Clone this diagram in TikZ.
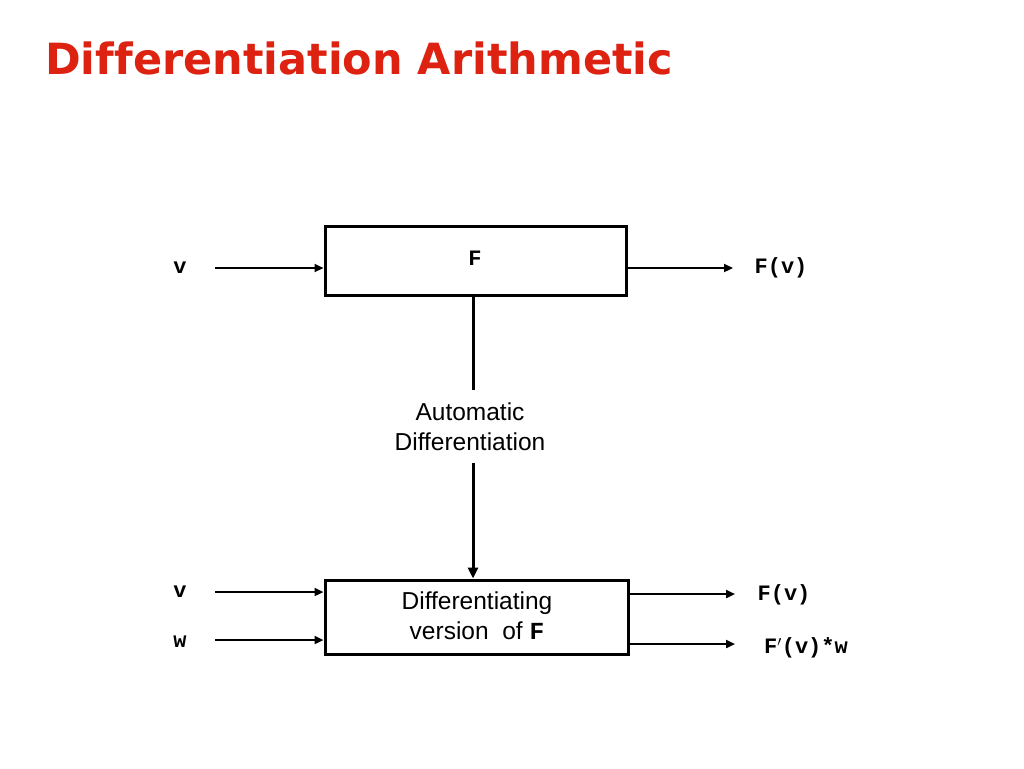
\documentclass[tikz,border=0pt]{standalone}
\usepackage{fontspec}
\setmainfont{Liberation Sans}
\newfontfamily\titlefont[Ligatures=NoCommon]{DejaVu Sans}
\setmonofont{Liberation Mono}
\usetikzlibrary{arrows.meta}
\definecolor{titlered}{RGB}{221,34,17}
\begin{document}
\begin{tikzpicture}[x=1pt,y=-1pt,
  boxst/.style={draw,line width=3pt,minimum width=#1,inner sep=0pt},
  arr/.style={line width=2.2pt,-{Triangle[length=9pt,width=8pt]}},
  mono/.style={font=\ttfamily\bfseries\fontsize{22}{26}\selectfont,inner sep=0pt},
  sans/.style={font=\fontsize{24.5}{30}\selectfont,align=center,inner sep=0pt}]
\useasboundingbox (0,0) rectangle (1024,768);
\node[anchor=west,text=titlered,font=\titlefont\bfseries\fontsize{43}{48}\selectfont,inner sep=0pt] (title) at (45,58) {Differentiation Arithmetic};
% top box
\node[boxst=301pt,minimum height=69pt] (top) at (475.5,260.5) {};
\node[mono] (F) at (475,258) {F};
\node[mono] (v1) at (180,268) {v};
\node[mono] (Fv1) at (781,268) {F(v)};
\coordinate (a1) at (215,268);
\draw[arr] (a1) -- (top.west |- a1);
\coordinate (b1) at (733,268);
\draw[arr] (top.east |- b1) -- (b1);
% middle
\node[sans] (ad) at (470,427) {Automatic\\Differentiation};
\node[boxst=303pt,minimum height=74pt] (bot) at (476.5,617) {};
\draw[line width=3pt] (top.south -| 473,0) -- (473,390);
\draw[line width=3pt,-{Triangle[length=11pt,width=10pt]}] (473,463) -- (bot.north -| 473,0);
\node[sans] (dv) at (477,616) {Differentiating\\version~ of \texttt{\bfseries F}};
% bottom io
\node[mono] (v2) at (180,592) {v};
\node[mono] (w2) at (180,642) {w};
\coordinate (a2) at (215,592);
\coordinate (a3) at (215,640);
\draw[arr] (a2) -- (bot.west |- a2);
\draw[arr] (a3) -- (bot.west |- a3);
\coordinate (b2) at (735,594);
\coordinate (b3) at (735,644);
\draw[arr] (bot.east |- b2) -- (b2);
\draw[arr] (bot.east |- b3) -- (b3);
\node[mono] (Fv2) at (784,595) {F(v)};
\node[mono] (Fpv) at (806,648) {F$'$(v)*w};
\end{tikzpicture}
\end{document}
